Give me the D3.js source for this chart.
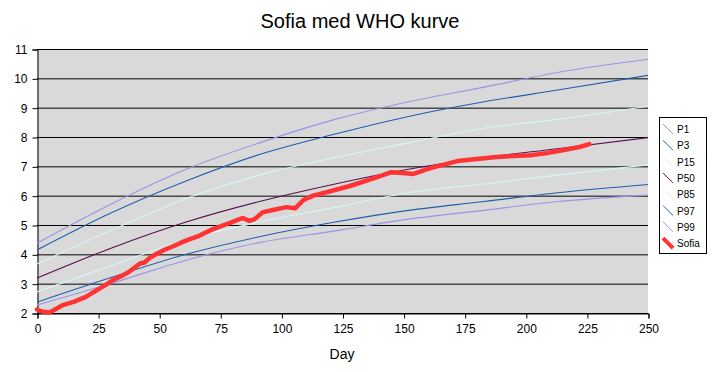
<!DOCTYPE html>
<html><head><meta charset="utf-8">
<script src="https://cdn.jsdelivr.net/npm/d3@7"></script>
<style>body{margin:0;background:#fff;} svg{display:block;font-family:"Liberation Sans",Arial,sans-serif;}</style>
</head><body>
<script>
// Data
const days   = [0, 30, 61, 91, 122, 152, 183, 213, 250];
const P1     = [2.27, 3.0, 3.8, 4.4, 4.8, 5.2, 5.5, 5.8, 6.02];
const P3     = [2.37, 3.2, 4.0, 4.6, 5.1, 5.5, 5.8, 6.1, 6.38];
const P15    = [2.72, 3.6, 4.5, 5.1, 5.6, 6.1, 6.4, 6.7, 7.05];
const P50    = [3.19, 4.2, 5.1, 5.8, 6.4, 6.9, 7.3, 7.6, 7.98];
const P85    = [3.67, 4.8, 5.9, 6.7, 7.3, 7.8, 8.3, 8.6, 9.05];
const P97    = [4.15, 5.4, 6.5, 7.4, 8.1, 8.7, 9.2, 9.6, 10.1];
const P99    = [4.38, 5.7, 6.9, 7.8, 8.6, 9.2, 9.7, 10.2, 10.65];
const sofiaDays = [0,2,5,7,10.6,15,20,24.5,28,31,35,38,42,44,46,49,52,55,58.5,62,65.5,72,79,84,87,89,92.5,97,102,105.6,109,113,120,128,138,145,148.5,154,161,172,188,202,208.7,215,222,226];
const sofiaKg   = [2.12,2.05,2.02,2.1,2.27,2.38,2.55,2.78,2.95,3.12,3.28,3.42,3.68,3.72,3.87,4.02,4.15,4.25,4.38,4.5,4.6,4.86,5.07,5.24,5.14,5.2,5.44,5.52,5.61,5.57,5.85,6.0,6.15,6.33,6.6,6.8,6.78,6.74,6.94,7.18,7.32,7.38,7.45,7.55,7.66,7.76];
const xTicks = [0,25,50,75,100,125,150,175,200,225,250];
const yTicks = [2,3,4,5,6,7,8,9,10,11];
const seriesNames = ["P1","P3","P15","P50","P85","P97","P99","Sofia"];
const seriesColors = ["#9b93e6","#1f5fae","#d6f7f7","#5a0f4e","#d6f7f7","#1f5fae","#9b93e6","#ff3333"];

const W=723,H=372;
const svg=d3.select("body").append("svg").attr("width",W).attr("height",H);
const x=d3.scaleLinear().domain([0,250]).range([37,648]);
const y=d3.scaleLinear().domain([2,11]).range([313,49]);

svg.append("rect").attr("x",x(0)).attr("y",y(11)).attr("width",x(250)-x(0)).attr("height",y(2)-y(11)).attr("fill","#d9d9d9");

// gridlines
svg.append("g").selectAll("line").data(yTicks).join("line")
  .attr("x1",x(0)).attr("x2",x(250)).attr("y1",d=>y(d)+0.5).attr("y2",d=>y(d)+0.5)
  .attr("stroke","#000").attr("stroke-width",1);

// axes
const yAxis=svg.append("g").attr("transform",`translate(${x(0)+0.5},0.5)`)
  .call(d3.axisLeft(y).tickValues(yTicks).tickSize(5).tickPadding(5).tickFormat(d3.format("d")));
const xAxis=svg.append("g").attr("transform",`translate(0.5,${y(2)+0.5})`)
  .call(d3.axisBottom(x).tickValues(xTicks).tickSize(5).tickPadding(6).tickFormat(d3.format("d")));
[yAxis,xAxis].forEach(a=>{
  a.selectAll("path").attr("stroke","#000");
  a.selectAll("line").attr("stroke","#000");
  a.selectAll("text").attr("font-size","12px").attr("fill","#000").attr("font-family","Liberation Sans, Arial, sans-serif");
});

// percentile lines
const pct=[P1,P3,P15,P50,P85,P97,P99];
const line=d3.line().x(d=>x(d[0])).y(d=>y(d[1])).curve(d3.curveMonotoneX);
pct.forEach((arr,i)=>{
  svg.append("path").datum(days.map((d,j)=>[d,arr[j]]))
    .attr("d",line).attr("fill","none").attr("stroke",seriesColors[i]).attr("stroke-width",1.1);
});
// Sofia
const sline=d3.line().x(d=>x(d[0])).y(d=>y(d[1]));
svg.append("path").datum(sofiaDays.map((d,j)=>[d,sofiaKg[j]]))
  .attr("d",sline).attr("fill","none").attr("stroke","#ff3333").attr("stroke-width",4.5)
  .attr("stroke-linejoin","round").attr("stroke-linecap","round");

// title
svg.append("text").attr("x",360).attr("y",28).attr("text-anchor","middle")
  .attr("font-size","20px").text("Sofia med WHO kurve");
svg.append("text").attr("x",342).attr("y",359).attr("text-anchor","middle")
  .attr("font-size","14px").text("Day");

// legend
const lg=svg.append("g");
lg.append("rect").attr("x",659.5).attr("y",117.5).attr("width",47).attr("height",136)
  .attr("fill","#fff").attr("stroke","#000");
seriesNames.forEach((n,i)=>{
  const cy=129+i*16.3;
  lg.append("line").attr("x1",663).attr("x2",673).attr("y1",cy-5).attr("y2",cy+5)
    .attr("stroke",seriesColors[i]).attr("stroke-width",n==="Sofia"?4:1);
  lg.append("text").attr("x",677).attr("y",cy+4).attr("font-size","10px").text(n);
});
</script>
</body></html>
